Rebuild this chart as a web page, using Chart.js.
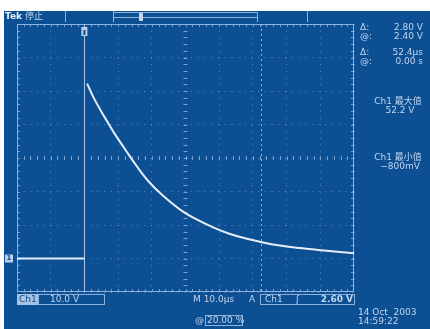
<!DOCTYPE html>
<html>
<head>
<meta charset="utf-8">
<script src="https://cdn.jsdelivr.net/npm/chart.js@4"></script>
<style>
  html, body { margin: 0; padding: 0; background: #fff; }
  #wrap { width: 430px; height: 329px; position: relative; }
</style>
</head>
<body>
<div id="wrap"><canvas id="scope" width="430" height="329"></canvas></div>
<script>
const baseTime = [-20, -15, -10, -5, 0];
const baseVolts = [0, 0, 0, 0, 0];
const decayTime = [0.8, 3, 6, 9, 12, 15, 18.6, 23, 28.4, 33, 38.2, 43, 48.2, 53, 58, 64, 70, 75, 80];
const decayVolts = [52.2, 47.5, 42.2, 37.2, 32.7, 28.3, 23.5, 19.0, 14.6, 11.8, 9.3, 7.4, 5.9, 4.8, 3.9, 3.1, 2.45, 2.0, 1.6];
const timeRange = [-20, 80];
const voltRange = [-10, 70];
const cursorTimes = [0, 52.4];

const BG = '#0c4f93';
const TXT = '#c2d6ee';
const TRACE = '#e4eefa';
const FONT = '"DejaVu Sans", "Noto Sans CJK SC", sans-serif';

const toPoints = (xs, ys) => xs.map((x, i) => ({ x: x, y: ys[i] }));

// Fondo, reticula y textos de la pantalla
const pantalla = {
    id: 'pantalla',
    beforeDraw(chart) {
        const ctx = chart.ctx;
        ctx.save();
        ctx.fillStyle = BG;
        ctx.fillRect(4, 11, 426, 318);
        ctx.restore();
    },
    beforeDatasetsDraw(chart) {
        const ctx = chart.ctx;
        const a = chart.chartArea;
        const x = chart.scales.x, y = chart.scales.y;
        ctx.save();
        // marco
        ctx.strokeStyle = '#8fb2dc';
        ctx.lineWidth = 1;
        ctx.strokeRect(a.left + 0.5, a.top + 0.5, a.width - 1, a.height - 1);
        // marcas menores en bordes y ejes centrales
        ctx.strokeStyle = 'rgba(140,180,230,0.8)';
        const dx = (a.right - a.left) / 50, dy = (a.bottom - a.top) / 40;
        const cx = x.getPixelForValue(30), cy = y.getPixelForValue(30);
        for (let i = 1; i < 50; i++) {
            const px = Math.round(a.left + i * dx) + 0.5;
            ctx.beginPath();
            ctx.moveTo(px, a.top); ctx.lineTo(px, a.top + 3);
            ctx.moveTo(px, a.bottom); ctx.lineTo(px, a.bottom - 3);
            ctx.moveTo(px, cy - 2); ctx.lineTo(px, cy + 2);
            ctx.stroke();
        }
        for (let i = 1; i < 40; i++) {
            const py = Math.round(a.top + i * dy) + 0.5;
            ctx.beginPath();
            ctx.moveTo(a.left, py); ctx.lineTo(a.left + 3, py);
            ctx.moveTo(a.right, py); ctx.lineTo(a.right - 3, py);
            ctx.moveTo(cx - 2, py); ctx.lineTo(cx + 2, py);
            ctx.stroke();
        }
        // cursores verticales
        const c1 = Math.round(x.getPixelForValue(cursorTimes[0])) + 0.5;
        ctx.strokeStyle = '#a9c4e8';
        ctx.beginPath(); ctx.moveTo(c1, a.top); ctx.lineTo(c1, a.bottom); ctx.stroke();
        const c2 = Math.round(x.getPixelForValue(cursorTimes[1])) + 0.5;
        ctx.setLineDash([2, 3]);
        ctx.strokeStyle = 'rgba(160,195,235,0.8)';
        ctx.beginPath(); ctx.moveTo(c2, a.top); ctx.lineTo(c2, a.bottom); ctx.stroke();
        ctx.setLineDash([]);
        ctx.restore();
    },
    afterDraw(chart) {
        const ctx = chart.ctx;
        const a = chart.chartArea;
        const x = chart.scales.x, y = chart.scales.y;
        ctx.save();
        ctx.fillStyle = TXT;
        ctx.strokeStyle = '#8fb2dc';
        ctx.lineWidth = 1;
        ctx.textBaseline = 'middle';

        // barra superior
        ctx.font = 'bold 9px ' + FONT;
        ctx.fillStyle = '#e6eef8';
        ctx.fillText('Tek', 5, 17);
        ctx.font = '9px ' + FONT;
        ctx.fillStyle = TXT;
        ctx.fillText('停止', 25, 17);
        ctx.beginPath();
        ctx.moveTo(65.5, 11); ctx.lineTo(65.5, 22);
        ctx.moveTo(113.5, 11); ctx.lineTo(113.5, 22);
        ctx.moveTo(113.5, 17.5); ctx.lineTo(257, 17.5);
        ctx.moveTo(113.5, 12.5); ctx.lineTo(257.5, 12.5); ctx.lineTo(257.5, 22);
        ctx.moveTo(307.5, 11); ctx.lineTo(307.5, 22);
        ctx.stroke();
        ctx.fillRect(139, 13, 4, 8);

        // marcador de disparo y de tierra
        const tx = x.getPixelForValue(0);
        ctx.fillStyle = '#b9cfea';
        ctx.fillRect(tx - 3, a.top + 3, 6, 9);
        ctx.fillStyle = BG;
        ctx.fillRect(tx - 1, a.top + 6, 2, 5);
        const gy = y.getPixelForValue(0);
        ctx.fillStyle = '#b9cfea';
        ctx.fillRect(5, gy - 4, 8, 8);
        ctx.fillStyle = BG;
        ctx.font = 'bold 7px ' + FONT;
        ctx.textAlign = 'center';
        ctx.fillText('1', 9, gy);

        // lecturas de cursores
        ctx.fillStyle = TXT;
        ctx.font = '9px ' + FONT;
        ctx.textAlign = 'left';
        ctx.fillText('Δ:', 360, 28);
        ctx.fillText('@:', 360, 37);
        ctx.fillText('Δ:', 360, 53);
        ctx.fillText('@:', 360, 62);
        ctx.textAlign = 'right';
        ctx.fillText('2.80 V', 423, 28);
        ctx.fillText('2.40 V', 423, 37);
        ctx.fillText('52.4µs', 423, 53);
        ctx.fillText('0.00 s', 423, 62);
        ctx.textAlign = 'center';
        ctx.fillText('Ch1 最大值', 398, 102);
        ctx.fillText('52.2 V', 400, 111);
        ctx.fillText('Ch1 最小值', 398, 158);
        ctx.fillText('−800mV', 400, 167);

        // barra inferior
        ctx.textAlign = 'left';
        ctx.fillStyle = '#a9c2e2';
        ctx.fillRect(17, 294, 21, 11);
        ctx.fillStyle = BG;
        ctx.fillText('Ch1', 19, 299.5);
        ctx.fillStyle = TXT;
        ctx.strokeRect(38.5, 294.5, 66, 10);
        ctx.fillText('10.0 V', 50, 299.5);
        ctx.fillText('M 10.0µs', 193, 299.5);
        ctx.fillText('A', 249, 299.5);
        ctx.strokeRect(260.5, 294.5, 94, 10);
        ctx.fillText('Ch1', 265, 299.5);
        ctx.fillText('ʃ', 296, 299.5);
        ctx.textAlign = 'right';
        ctx.font = 'bold 9px ' + FONT;
        ctx.fillText('2.60 V', 353, 299.5);
        ctx.font = '9px ' + FONT;
        ctx.textAlign = 'left';
        ctx.fillText('@', 195, 320.5);
        ctx.strokeRect(205.5, 315.5, 37, 10);
        ctx.fillText('20.00 %', 207, 320.5);
        ctx.fillText('14 Oct  2003', 358, 313);
        ctx.fillText('14:59:22', 358, 322);
        ctx.restore();
    }
};

const gridLines = { color: 'rgba(140,180,230,0.6)', drawTicks: false, tickLength: 0 };
const gridBorder = { display: false, dash: [1, 5.7] };

new Chart(document.getElementById('scope'), {
    type: 'line',
    data: {
        datasets: [
            {
                label: 'Ch1 base',
                data: toPoints(baseTime, baseVolts),
                borderColor: TRACE,
                borderWidth: 2,
                pointRadius: 0,
                tension: 0
            },
            {
                label: 'Ch1',
                data: toPoints(decayTime, decayVolts),
                borderColor: TRACE,
                borderWidth: 2,
                pointRadius: 0,
                tension: 0.4
            }
        ]
    },
    options: {
        responsive: false,
        animation: false,
        events: [],
        layout: { padding: { left: 17, right: 76, top: 24, bottom: 37 } },
        plugins: { legend: { display: false }, tooltip: { enabled: false } },
        scales: {
            x: {
                type: 'linear',
                min: timeRange[0], max: timeRange[1],
                ticks: { display: false, stepSize: 10 },
                grid: gridLines,
                border: gridBorder
            },
            y: {
                min: voltRange[0], max: voltRange[1],
                ticks: { display: false, stepSize: 10 },
                grid: gridLines,
                border: gridBorder
            }
        }
    },
    plugins: [pantalla]
});
</script>
</body>
</html>
